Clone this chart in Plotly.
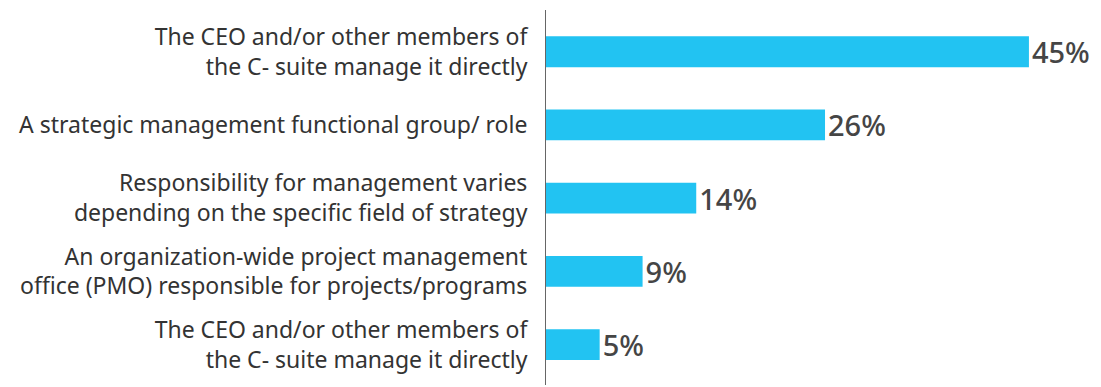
import plotly.graph_objects as go

categories = [
    "The CEO and/or other members of<br>the C- suite manage it directly",
    "A strategic management functional group/ role",
    "Responsibility for management varies<br>depending on the specific field of strategy",
    "An organization-wide project management<br>office (PMO) responsible for projects/programs",
    "The CEO and/or other members of<br>the C- suite manage it directly",
]
values = [45, 26, 14, 9, 5]
value_labels = ["45%", "26%", "14%", "9%", "5%"]

# first and last labels are identical, so plot on index positions
positions = list(range(len(categories)))

fig = go.Figure()

fig.add_trace(go.Bar(
    x=values,
    y=positions,
    orientation="h",
    marker=dict(color="#22c3f2", line=dict(width=0)),
    text=value_labels,
    textposition="outside",
    constraintext="none",
    cliponaxis=False,
    textfont=dict(family="Noto Sans", size=29, color="#454545", weight=500),
    hoverinfo="skip",
))

# page body has an 8px default margin, so margins are shifted to compensate
fig.update_layout(
    width=1101,
    height=387,
    margin=dict(l=538, r=13, t=2, b=10),
    paper_bgcolor="white",
    plot_bgcolor="white",
    showlegend=False,
    bargap=0.58,
    font=dict(family="Noto Sans", color="#333333"),
)

fig.update_xaxes(
    range=[0, 51.25],
    visible=False,
)

fig.update_yaxes(
    tickmode="array",
    tickvals=positions,
    ticktext=categories,
    range=[4.55, -0.57],
    showline=True,
    linecolor="#666666",
    linewidth=1,
    showgrid=False,
    zeroline=False,
    ticks="",
    ticklabelstandoff=13,
    tickfont=dict(family="Noto Sans", size=23, color="#333333"),
)

fig.write_html("out.html")
